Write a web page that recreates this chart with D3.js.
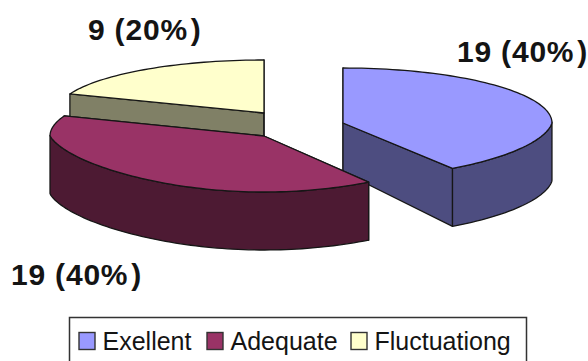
<!DOCTYPE html>
<html>
<head>
<meta charset="utf-8">
<script src="https://cdn.jsdelivr.net/npm/d3@7"></script>
<style>
  html, body { margin: 0; padding: 0; background: #fff; }
  svg { display: block; }
  text { font-family: "Liberation Sans", Arial, sans-serif; fill: #141414; }
</style>
</head>
<body>
<svg id="chart" width="588" height="361"></svg>
<script>
const categories = ["Exellent", "Adequate", "Fluctuationg"];
const counts = [19, 19, 9];
const shares = ["40%", "40%", "20%"];
const topColors = ["#9999ff", "#993366", "#ffffcc"];
const wallColors = ["#4d4d80", "#4d1a33", "#808066"];

// Each slice is pulled away from the pie, so each has its own hub on the page.
const hubX = [343, 264, 264];
const hubY = [123, 136, 113];
const radiusX = [209, 214, 208];
const radiusY = [55, 56, 53];
const depth = 58, hubDepth = 49;
const frontPinch = [0.09, 0.165, 0]; // narrows the near half of each ellipse

const labelX = [457, 11, 88];
const labelY = [62, 285, 40];

const svg = d3.select("#chart");
const pie = d3.pie().sort(null)(counts);
const line = d3.line();

// Project a pie angle (clockwise from 12 o'clock) onto the tilted ellipse.
function rim(i, a) {
  const pinch = 1 - frontPinch[i] * Math.max(0, -Math.cos(a));
  return [hubX[i] + radiusX[i] * Math.sin(a) * pinch,
          hubY[i] - radiusY[i] * Math.cos(a)];
}
function rimAngles(a0, a1) {
  const n = Math.ceil((a1 - a0) / 0.03);
  return d3.range(n + 1).map(k => a0 + (a1 - a0) * k / n);
}
const down = (p, d) => [p[0], p[1] + d];

function drawSlice(i) {
  const { startAngle: a0, endAngle: a1 } = pie[i];
  const angles = rimAngles(a0, a1);
  const arc = angles.map(a => rim(i, a));
  const hub = [hubX[i], hubY[i]];
  const g = svg.append("g")
    .attr("stroke", "#161616").attr("stroke-width", 1.3).attr("stroke-linejoin", "round");

  const wall = pts => g.append("path").attr("d", line(pts) + "Z").attr("fill", wallColors[i]);

  // Cut faces, back to front
  [a0, a1].forEach(a => {
    const p = rim(i, a);
    wall([hub, p, down(p, depth), down(hub, hubDepth)]);
  });
  // Outer rim: only the part that faces the viewer
  const front = angles.filter(a => Math.cos(a) < 0.02).map(a => rim(i, a));
  if (front.length) {
    wall(front.concat(front.slice().reverse().map(p => down(p, depth))));
  }
  // Top face
  g.append("path").attr("d", line([hub, ...arc]) + "Z").attr("fill", topColors[i]);
}

// Painting order: the maroon slice overlaps both of its neighbours.
[0, 2, 1].forEach(drawSlice);

// Value labels, with the small gap the closing bracket sits after
const labels = svg.append("g").selectAll("text").data(categories).join("text")
  .attr("x", (d, i) => labelX[i])
  .attr("y", (d, i) => labelY[i])
  .attr("font-size", 30).attr("font-weight", "bold")
  .attr("letter-spacing", 0.8);
labels.append("tspan").text((d, i) => `${counts[i]} (${shares[i]}`);
labels.append("tspan").attr("dx", 3).text(")");

// Legend: its frame runs off the lower edge of the page
const legendX = [79, 207, 351];
svg.append("path").attr("d", "M69.5,361V317.5H526.5V361")
  .attr("fill", "none").attr("stroke", "#333").attr("stroke-width", 1.5);
const item = svg.append("g").selectAll("g").data(categories).join("g")
  .attr("transform", (d, i) => `translate(${legendX[i]},332.5)`);
item.append("rect").attr("width", 16).attr("height", 17)
  .attr("fill", (d, i) => topColors[i]).attr("stroke", "#333").attr("stroke-width", 1.4);
item.append("text").attr("x", 23.5).attr("y", 17).attr("font-size", 25)
  .attr("fill", "#222").text(d => d);
</script>
</body>
</html>
